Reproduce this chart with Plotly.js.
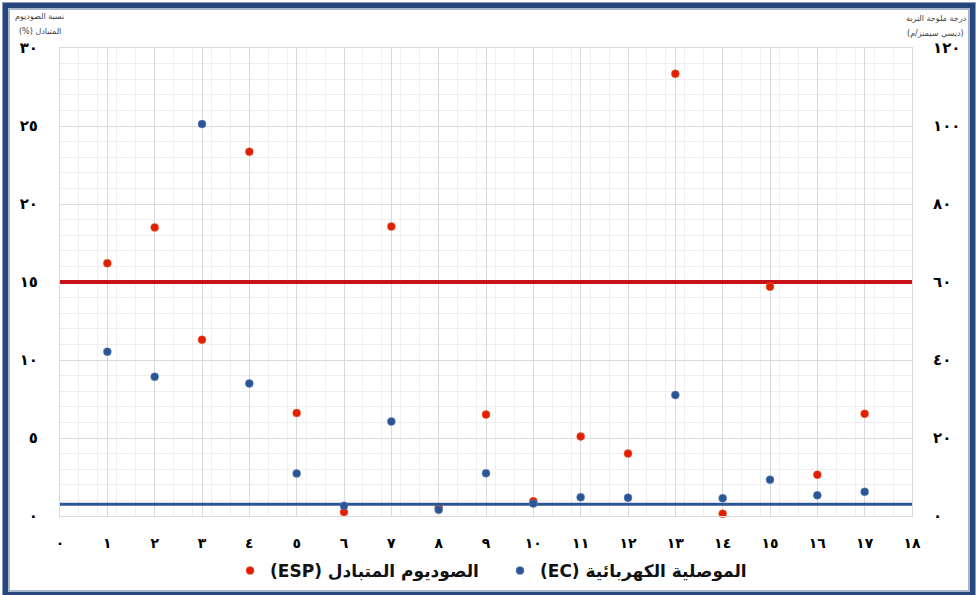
<!DOCTYPE html>
<html>
<head>
<meta charset="utf-8">
<script src="https://cdn.plot.ly/plotly-3.0.1.min.js"></script>
<style>
  html, body { margin: 0; padding: 0; background: #ffffff; overflow: hidden; }
  #wrap { position: relative; width: 976px; height: 595px; overflow: hidden; }
  #chart { position: absolute; left: 0; top: 0; width: 976px; height: 595px; }
  #frame {
    position: absolute; left: 3px; top: 3px; width: 972px; height: 594px;
    box-sizing: border-box; border: 5px solid #27467c;
    box-shadow: inset 0 0 0 2px #a7b5cf, 0 0 0 1px #8d9fc0;
    pointer-events: none;
  }
</style>
</head>
<body>
<div id="wrap">
  <div id="chart"></div>
  <div id="frame"></div>
</div>
<script>
// ---- data ----
const samples = [1, 2, 3, 4, 5, 6, 7, 8, 9, 10, 11, 12, 13, 14, 15, 16, 17];
// Exchangeable sodium percentage (%), left axis
const espValues = [16.2, 18.5, 11.3, 23.35, 6.6, 0.25, 18.55, 0.55, 6.5, 0.95, 5.1, 4.0, 28.35, 0.15, 14.7, 2.65, 6.55];
// Electrical conductivity (dS/m), right axis
const ecValues = [42.1, 35.7, 100.5, 34.0, 10.9, 2.6, 24.2, 1.6, 10.95, 3.2, 4.8, 4.7, 31.0, 4.55, 9.3, 5.3, 6.2];
// threshold lines
const espLimit = 15;
const ecLimit = 3;
const xLineSpan = [0, 18];

const espName = '(ESP) الصوديوم المتبادل';
const ecName = '(EC) الموصلية الكهربائية';

const xTickVals = [0,1,2,3,4,5,6,7,8,9,10,11,12,13,14,15,16,17,18];
const xTickText = ['٠','١','٢','٣','٤','٥','٦','٧','٨','٩','١٠','١١','١٢','١٣','١٤','١٥','١٦','١٧','١٨'];
const yLeftTickVals = [0, 5, 10, 15, 20, 25, 30];
const yLeftTickText = ['٠','٥','١٠','١٥','٢٠','٢٥','٣٠'];
const yRightTickVals = [0, 20, 40, 60, 80, 100, 120];
const yRightTickText = ['٠','٢٠','٤٠','٦٠','٨٠','١٠٠','١٢٠'];

const leftTitle1 = 'نسبة الصوديوم';
const leftTitle2 = '(%) المتبادل';
const rightTitle1 = 'درجة ملوحة التربة';
const rightTitle2 = '(ديسي سيمنز/م)';

const FONT = '"DejaVu Sans", "Noto Sans", sans-serif';
const RED = '#df1f04';
const BLUE = '#2b5594';

const traces = [
  {
    x: xLineSpan, y: [espLimit, espLimit], type: 'scatter', mode: 'lines',
    line: { color: '#c8121a', width: 4 }, showlegend: false, hoverinfo: 'skip',
    xaxis: 'x', yaxis: 'y'
  },
  {
    x: xLineSpan, y: [ecLimit, ecLimit], type: 'scatter', mode: 'lines',
    line: { color: '#2f5597', width: 3 }, showlegend: false, hoverinfo: 'skip',
    xaxis: 'x', yaxis: 'y2'
  },
  {
    x: samples, y: espValues, type: 'scatter', mode: 'markers', name: espName,
    marker: { color: RED, size: 8, line: { width: 0.5, color: '#f0703a' } },
    xaxis: 'x', yaxis: 'y', cliponaxis: false, legend: 'legend'
  },
  {
    x: samples, y: ecValues, type: 'scatter', mode: 'markers', name: ecName,
    marker: { color: BLUE, size: 8, line: { width: 0.5, color: '#6f8fc4' } },
    xaxis: 'x', yaxis: 'y2', cliponaxis: false, legend: 'legend2'
  }
];

const legendFont = { family: FONT, size: 17, color: '#111111', weight: 'bold' };

const layout = {
  width: 976, height: 595,
  margin: { l: 60, r: 64, t: 48, b: 79, autoexpand: false },
  paper_bgcolor: '#ffffff', plot_bgcolor: '#ffffff',
  font: { family: FONT, color: '#000000' },
  showlegend: true,
  legend: {
    orientation: 'h', xref: 'container', yref: 'container',
    x: 0.2357, xanchor: 'left', y: 0.0403, yanchor: 'middle',
    font: legendFont, bgcolor: 'rgba(0,0,0,0)'
  },
  legend2: {
    orientation: 'h', xref: 'container', yref: 'container',
    x: 0.5123, xanchor: 'left', y: 0.0403, yanchor: 'middle',
    font: legendFont, bgcolor: 'rgba(0,0,0,0)'
  },
  xaxis: {
    range: [0, 18], tickmode: 'array', tickvals: xTickVals, ticktext: xTickText,
    showgrid: true, gridcolor: '#d9d9d9', gridwidth: 1,
    minor: { dtick: 0.4, tick0: 0, showgrid: true, gridcolor: '#efefef', gridwidth: 1 },
    zeroline: false, showline: true, linecolor: '#d9d9d9', mirror: true,
    ticks: '', ticklabelstandoff: 14,
    tickfont: { family: FONT, size: 14, color: '#000000', weight: 'bold' },
    fixedrange: true
  },
  yaxis: {
    range: [0, 30], tickmode: 'array', tickvals: yLeftTickVals, ticktext: yLeftTickText,
    showgrid: true, gridcolor: '#d9d9d9', gridwidth: 1,
    minor: { dtick: 1, tick0: 0, showgrid: true, gridcolor: '#efefef', gridwidth: 1 },
    zeroline: false, showline: true, linecolor: '#d9d9d9', mirror: true,
    ticks: '', ticklabelstandoff: 18,
    tickfont: { family: FONT, size: 15, color: '#000000', weight: 'bold' },
    fixedrange: true
  },
  yaxis2: {
    range: [0, 120], overlaying: 'y', side: 'right',
    tickmode: 'array', tickvals: yRightTickVals, ticktext: yRightTickText,
    showgrid: false, zeroline: false, showline: false,
    ticks: '', ticklabelstandoff: 20,
    tickfont: { family: FONT, size: 15, color: '#000000', weight: 'bold' },
    fixedrange: true
  },
  annotations: [
    { text: leftTitle1, xref: 'paper', yref: 'paper', x: -0.0235, y: 1.068, xanchor: 'center', yanchor: 'middle',
      showarrow: false, font: { family: FONT, size: 8, color: '#404040' } },
    { text: leftTitle2, xref: 'paper', yref: 'paper', x: -0.0235, y: 1.036, xanchor: 'center', yanchor: 'middle',
      showarrow: false, font: { family: FONT, size: 8, color: '#404040' } },
    { text: rightTitle1, xref: 'paper', yref: 'paper', x: 1.028, y: 1.062, xanchor: 'center', yanchor: 'middle',
      showarrow: false, font: { family: FONT, size: 8, color: '#404040' } },
    { text: rightTitle2, xref: 'paper', yref: 'paper', x: 1.028, y: 1.032, xanchor: 'center', yanchor: 'middle',
      showarrow: false, font: { family: FONT, size: 8, color: '#404040' } }
  ]
};

Plotly.newPlot('chart', traces, layout, { displayModeBar: false, staticPlot: true });
</script>
</body>
</html>
